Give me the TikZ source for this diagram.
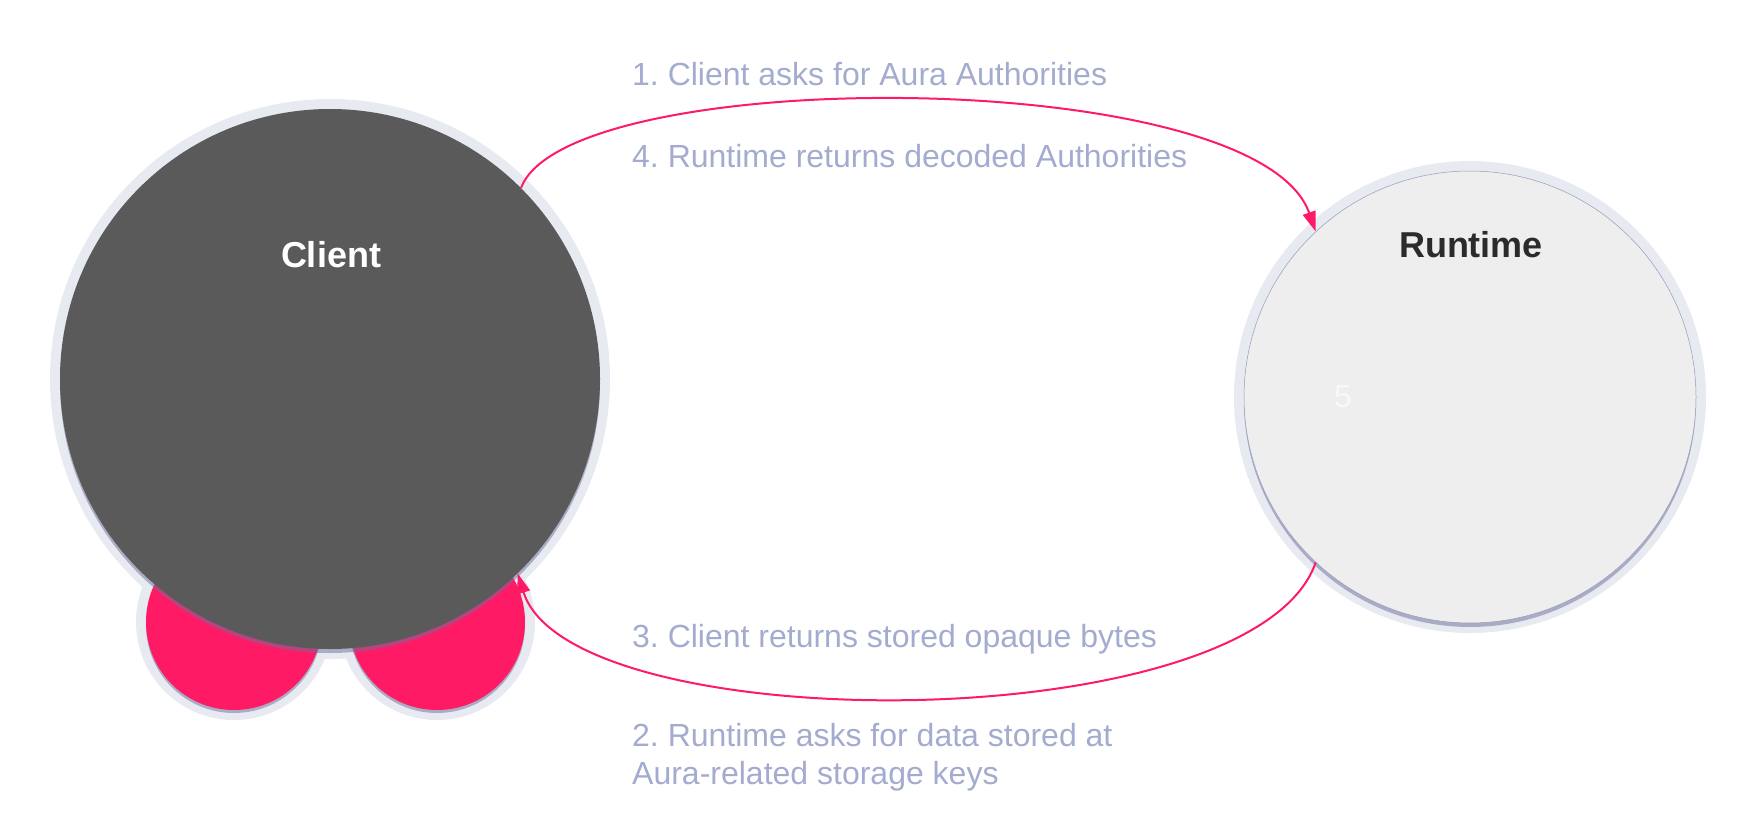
\documentclass[tikz,border=0pt]{standalone}
\usepackage{fontspec}
\setmainfont{Liberation Sans}
\usetikzlibrary{arrows.meta}
\definecolor{clientgray}{HTML}{5A5A5A}
\definecolor{pinkc}{HTML}{FF1A66}
\definecolor{rtfill}{HTML}{EEEEEE}
\definecolor{haloc}{HTML}{E8EAF1}
\definecolor{shade}{HTML}{6B7099}
\definecolor{edgetext}{HTML}{A3ABCF}
\definecolor{darktext}{HTML}{2B2B2B}
\definecolor{fivec}{HTML}{F8F8F8}
\frenchspacing
\begin{document}
\begin{tikzpicture}[x=1pt,y=-1pt,
  halo/.style={circle,fill=haloc,inner sep=0pt,minimum size=#1},
  shadowc/.style={circle,fill=shade,opacity=0.5,inner sep=0pt,minimum size=#1},
  disk/.style={circle,inner sep=0pt,minimum size=#1},
  flow/.style={draw=pinkc,line width=2pt,-{Triangle[length=20pt,width=13pt]}},
  steptext/.style={text=edgetext,font=\fontsize{32}{38}\selectfont,align=left,inner sep=0pt},
  nodetitle/.style={font=\fontsize{36}{43}\selectfont\bfseries,inner sep=0pt}]
\useasboundingbox (0,0) rectangle (1746,830);
% halos
\node[halo=560] (clienthalo) at (330,379) {};
\node[halo=196] (p1halo) at (234,622) {};
\node[halo=196] (p2halo) at (437,622) {};
\node[halo=472] (runtimehalo) at (1470,397) {};
% pink disks
\node[shadowc=176] (p1shadow) at (234,625) {};
\node[shadowc=176] (p2shadow) at (437,625) {};
\node[disk=176,fill=pinkc] (p1) at (234,622) {};
\node[disk=176,fill=pinkc] (p2) at (437,622) {};
% client
\node[shadowc=540] (clientshadow) at (330,383) {};
\node[disk=540,fill=clientgray] (client) at (330,379) {};
\node[nodetitle,text=white] (clientlabel) at (331,255) {Client};
% runtime
\node[shadowc=452] (runtimeshadow) at (1470,401) {};
\node[disk=452,fill=rtfill,draw=shade!70,line width=0.5pt] (runtime) at (1470,397) {};
\node[nodetitle,text=darktext] (runtimelabel) at (1471,245) {Runtime};
\node[text=fivec,font=\fontsize{32}{38}\selectfont,inner sep=0pt] (five) at (1343,397) {5};
% connectors
\draw[flow] (client.45) .. controls (567,64) and (1257,64) .. (runtime.133);
\draw[flow] (runtime.227) .. controls (1254,741) and (570,741) .. (client.314);
% texts
\node[steptext,anchor=base west] (t1) at (632,85) {1. Client asks for Aura Authorities};
\node[steptext,anchor=base west] (t4) at (632,167) {4. Runtime returns decoded Authorities};
\node[steptext,anchor=base west] (t3) at (632,647) {3. Client returns stored opaque bytes};
\node[steptext,anchor=north west] (t2) at (632,723) {2. Runtime asks for data stored at\\Aura-related storage keys};
\end{tikzpicture}
\end{document}
